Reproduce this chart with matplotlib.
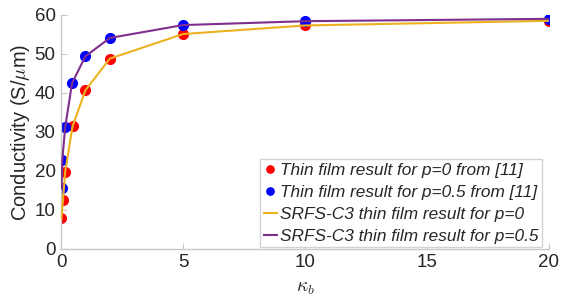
import matplotlib
matplotlib.use("Agg")
import matplotlib.pyplot as plt

kappa_p0 = [0.01, 0.08, 0.17, 0.47, 1, 2, 5, 10, 20]
sigma_p0 = [7.8, 12.6, 19.8, 31.4, 40.7, 48.8, 55.1, 57.3, 58.5]
kappa_p05 = [0.02, 0.05, 0.17, 0.45, 1, 2, 5, 10, 20]
sigma_p05 = [15.5, 22.8, 31.2, 42.5, 49.4, 54.1, 57.4, 58.4, 59.0]

xticks = [0, 5, 10, 15, 20]
yticks = [0, 10, 20, 30, 40, 50, 60]

plt.rcParams['font.family'] = ['Liberation Sans', 'DejaVu Sans']
plt.rcParams['mathtext.fontset'] = 'cm'

fig = plt.figure(figsize=(5.76, 3.05), dpi=100)
ax = fig.add_axes([0.106, 0.184, 0.847, 0.767])

ax.plot(kappa_p0, sigma_p0, 'o', color='#ff0000', markersize=7, zorder=2,
        label='Thin film result for p=0 from [11]')
ax.plot(kappa_p05, sigma_p05, 'o', color='#0000ff', markersize=7, zorder=2,
        label='Thin film result for p=0.5 from [11]')
ax.plot(kappa_p0, sigma_p0, '-', color='#EDB120', linewidth=1.5, zorder=3,
        label='SRFS-C3 thin film result for p=0')
ax.plot(kappa_p05, sigma_p05, '-', color='#7E2F8E', linewidth=1.5, zorder=3,
        label='SRFS-C3 thin film result for p=0.5')

ax.set_xlim(0, 20)
ax.set_ylim(0, 60)
ax.set_xticks(xticks)
ax.set_yticks(yticks)
for s in ['top', 'right']:
    ax.spines[s].set_visible(False)
for s in ['left', 'bottom']:
    ax.spines[s].set_color('#c8c8c8')
    ax.spines[s].set_linewidth(1.0)
ax.tick_params(direction='in', length=4, color='#c8c8c8', labelsize=13.5,
               labelcolor='#262626', pad=4)

ax.set_ylabel('Conductivity (S/$\\mu$m)', fontsize=14.5, color='#262626', labelpad=2)
ax.set_xlabel('$\\kappa_b$', fontsize=14, color='#262626', labelpad=6)

leg = ax.legend(loc='lower right', bbox_to_anchor=(0.996, -0.015),
                prop={'style': 'italic', 'size': 12.4}, frameon=True, fancybox=False,
                edgecolor='#c8c8c8', handlelength=0.8, handletextpad=0.15,
                borderpad=0.2, labelspacing=0.4, borderaxespad=0.3, markerscale=0.75)
leg.get_frame().set_linewidth(1.0)
for t in leg.get_texts():
    t.set_color('#262626')

fig.savefig('out.png', dpi=100)
